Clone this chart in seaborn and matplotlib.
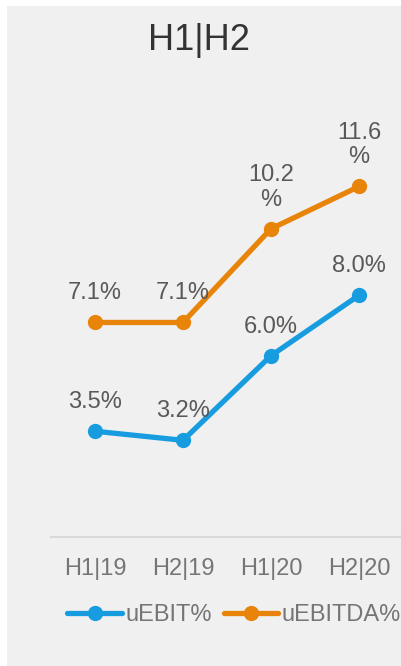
import pandas as pd
import matplotlib.pyplot as plt
import matplotlib.patches as mpatches
import seaborn as sns

periods = ["H1|19", "H2|19", "H1|20", "H2|20"]
uebit = [3.5, 3.2, 6.0, 8.0]
uebitda = [7.1, 7.1, 10.2, 11.6]
uebit_labels = ["3.5%", "3.2%", "6.0%", "8.0%"]
uebitda_labels = ["7.1%", "7.1%", "10.2\n%", "11.6\n%"]

df = pd.DataFrame({
    "period": periods * 2,
    "value": uebit + uebitda,
    "series": ["uEBIT%"] * 4 + ["uEBITDA%"] * 4,
})
df["pos"] = df["period"].map({p: i for i, p in enumerate(periods)})

sns.set_style("white")
plt.rcParams["font.family"] = ["Liberation Sans", "DejaVu Sans"]

bg = "#f0f0f0"
colors = {"uEBIT%": "#179ddf", "uEBITDA%": "#e8840a"}

fig = plt.figure(figsize=(4.02, 6.66), dpi=100)
fig.patch.set_facecolor("white")
fig.patches.append(mpatches.Rectangle((7 / 402, 0), 1, 1 - 6 / 666,
                                      transform=fig.transFigure,
                                      facecolor=bg, edgecolor="none", zorder=-10))

ax = fig.add_axes([51 / 402, 1 - 537 / 666, 352 / 402, 420 / 666])
ax.set_facecolor("none")

sns.lineplot(data=df, x="pos", y="value", hue="series", palette=colors,
             marker="o", markersize=11, markeredgewidth=0, linewidth=3.8,
             sort=False, ax=ax, legend=True)

for vals, labs in [(uebit, uebit_labels), (uebitda, uebitda_labels)]:
    for i, (v, t) in enumerate(zip(vals, labs)):
        ax.annotate(t, (i, v), xytext=(0, 13), textcoords="offset points",
                    ha="center", va="bottom", fontsize=17, color="#595959",
                    linespacing=1.15)

ax.set_xlim(-0.5, 3.5)
ax.set_ylim(0, 13.9)
ax.set_xticks(range(4))
ax.set_xticklabels(periods, fontsize=17, color="#757575")
ax.set_yticks([])
ax.tick_params(axis="x", length=0, pad=15)
ax.set_xlabel("")
ax.set_ylabel("")
for s in ["top", "left", "right"]:
    ax.spines[s].set_visible(False)
ax.spines["bottom"].set_color("#d9d9d9")
ax.spines["bottom"].set_linewidth(1.5)

handles, labels = ax.get_legend_handles_labels()
ax.get_legend().remove()
fig.legend(handles, labels, loc="center", bbox_to_anchor=(234 / 402, 1 - 615 / 666),
           ncol=2, frameon=False, fontsize=17, labelcolor="#757575",
           handlelength=2.3, handletextpad=0.15, columnspacing=0.5,
           borderaxespad=0)

fig.text(199 / 402, 1 - 40 / 666, "H1|H2", ha="center", va="center",
         fontsize=26, color="#333333")

fig.savefig("out.png", dpi=100, facecolor=fig.get_facecolor())
